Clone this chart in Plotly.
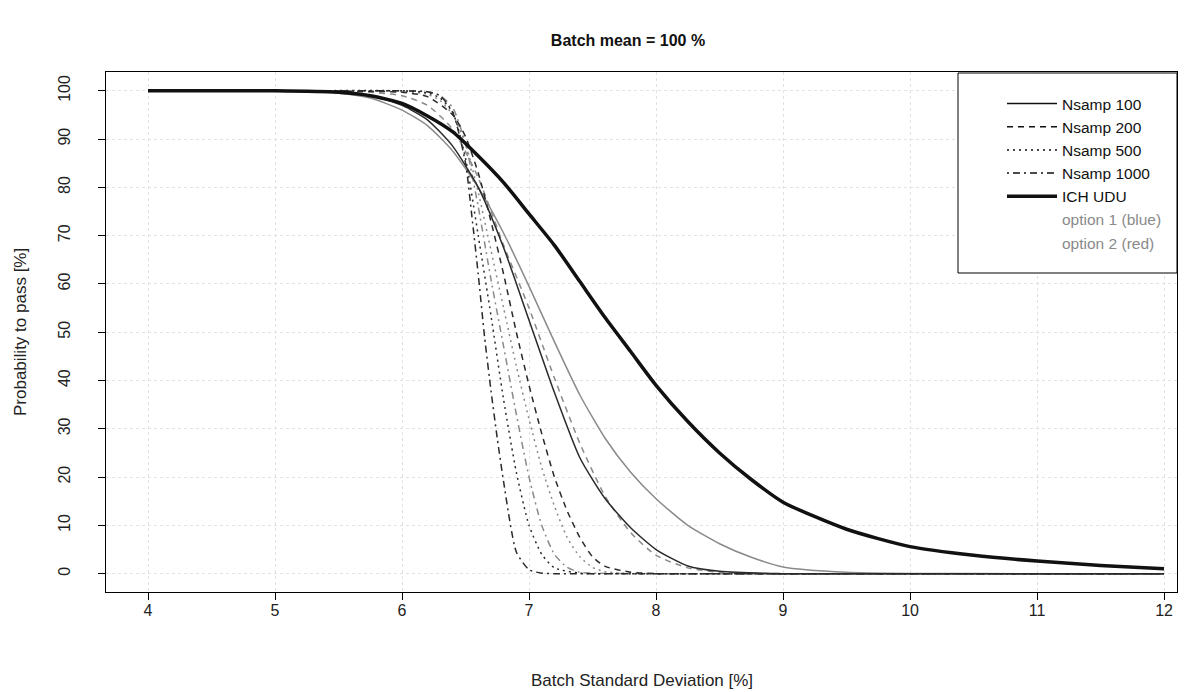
import plotly.graph_objects as go

# ---------------- data ----------------
x_ich = [4, 5, 5.5, 5.75, 6, 6.2, 6.4, 6.6, 6.8, 7.0, 7.2, 7.4, 7.6, 7.8, 8.0, 8.25, 8.5, 8.75, 9, 9.5, 10, 10.5, 11, 11.5, 12]
y_ich = [100, 100, 99.7, 99, 97.4, 94.8, 91.5, 86.5, 81, 74.5, 68, 60.5, 53, 46, 39, 31.5, 25, 19.5, 14.8, 9.2, 5.6, 3.8, 2.6, 1.7, 1.0]

x_n100_o1 = [4, 5, 5.5, 5.75, 6, 6.2, 6.4, 6.6, 6.8, 7.0, 7.2, 7.4, 7.6, 7.8, 8.0, 8.25, 8.5, 8.75, 9, 9.5, 10, 11, 12]
y_n100_o1 = [100, 100, 99.5, 98.5, 96, 92.8, 87.5, 80, 70.5, 59.5, 48, 37, 28, 21, 15.5, 10, 6.2, 3.4, 1.4, 0.3, 0.05, 0, 0]

x_n100_o2 = [4, 5, 5.5, 5.75, 6, 6.2, 6.4, 6.6, 6.8, 7.0, 7.2, 7.4, 7.6, 7.8, 8.0, 8.25, 8.5, 9, 10, 12]
y_n100_o2 = [100, 100, 99.7, 99, 97, 94, 88.5, 80, 67.5, 52.5, 37.5, 24, 15.5, 9.5, 5, 1.6, 0.5, 0, 0, 0]

x_n200_o1 = [4, 5, 5.75, 6, 6.2, 6.4, 6.6, 6.8, 7.0, 7.2, 7.4, 7.6, 7.8, 8.0, 8.25, 8.5, 9, 10, 12]
y_n200_o1 = [100, 100, 99.7, 99, 97, 92, 82, 68, 55, 40.5, 27, 16, 8.5, 3.8, 1.2, 0.3, 0, 0, 0]

x_n200_o2 = [4, 5, 6, 6.2, 6.4, 6.5, 6.6, 6.7, 6.8, 6.9, 7.0, 7.1, 7.2, 7.3, 7.4, 7.5, 7.6, 7.8, 8, 9, 12]
y_n200_o2 = [100, 100, 99.7, 98.8, 95, 90.5, 83, 73, 62, 50, 39, 29, 20, 13, 7.5, 3.5, 1.5, 0.3, 0, 0, 0]

x_n500_o1 = [4, 5, 6, 6.2, 6.3, 6.4, 6.5, 6.6, 6.7, 6.8, 6.9, 7.0, 7.1, 7.2, 7.3, 7.4, 7.5, 7.6, 7.8, 8, 12]
y_n500_o1 = [100, 100, 99.9, 99.3, 98, 95, 89, 79, 67, 55, 43, 32, 22, 14, 7.5, 3.5, 1.3, 0.4, 0, 0, 0]

x_n500_o2 = [4, 5, 6, 6.2, 6.3, 6.4, 6.5, 6.6, 6.7, 6.8, 6.9, 7.0, 7.1, 7.2, 7.4, 8, 12]
y_n500_o2 = [100, 100, 100, 99.6, 98.5, 95.5, 86, 70, 53.5, 36, 21, 10, 4, 1.2, 0.1, 0, 0]

x_n1000_o1 = [4, 5, 6, 6.2, 6.3, 6.4, 6.5, 6.6, 6.7, 6.8, 6.9, 7.0, 7.1, 7.2, 7.3, 7.4, 8, 12]
y_n1000_o1 = [100, 100, 100, 99.8, 99, 96.5, 89, 76, 61, 47, 33, 20, 10, 4, 1.3, 0.3, 0, 0]

x_n1000_o2 = [4, 5, 6, 6.2, 6.3, 6.4, 6.5, 6.55, 6.6, 6.65, 6.7, 6.75, 6.8, 6.9, 7.0, 7.1, 7.2, 8, 12]
y_n1000_o2 = [100, 100, 100, 99.8, 99, 95.5, 85, 74, 62, 49, 38, 28, 19, 4.5, 0.8, 0.1, 0, 0, 0]

x_ticks = [4, 5, 6, 7, 8, 9, 10, 11, 12]
y_ticks = [0, 10, 20, 30, 40, 50, 60, 70, 80, 90, 100]

legend_names = ["Nsamp 100", "Nsamp 200", "Nsamp 500", "Nsamp 1000", "ICH UDU",
                "option 1 (blue)", "option 2 (red)"]

# ---------------- styles ----------------
C1 = "#8a8a8a"   # option 1 (blue) rendered in grey
C2 = "#2a2a2a"   # option 2 (red) rendered darker
DASH = "6px,5px"
DOT = "2px,4px"
DASHDOT = "2px,4px,7px,4px"
FONT = "Liberation Sans, Arial, sans-serif"

# plot area in pixels
L, R, T, B = 106, 1177, 72, 592
W, H = 1197, 692

fig = go.Figure()

def add(x, y, color, dash, width=1.5):
    fig.add_trace(go.Scatter(x=x, y=y, mode="lines", showlegend=False, hoverinfo="skip",
                             line=dict(color=color, dash=dash, width=width,
                                       shape="spline", smoothing=0.6)))

add(x_n1000_o1, y_n1000_o1, C1, DASHDOT)
add(x_n500_o1, y_n500_o1, C1, DOT)
add(x_n200_o1, y_n200_o1, C1, DASH)
add(x_n100_o1, y_n100_o1, C1, "solid")
add(x_n1000_o2, y_n1000_o2, C2, DASHDOT)
add(x_n500_o2, y_n500_o2, C2, DOT)
add(x_n200_o2, y_n200_o2, C2, DASH)
add(x_n100_o2, y_n100_o2, C2, "solid")
add(x_ich, y_ich, "#111111", "solid", width=3.5)

# legend entries
leg_styles = [("solid", 1.5, "#111"), (DASH, 1.5, "#111"), (DOT, 1.5, "#111"),
              (DASHDOT, 1.5, "#111"), ("solid", 3.5, "#111")]
for name, (d, w, c) in zip(legend_names[:5], leg_styles):
    fig.add_trace(go.Scatter(x=[None], y=[None], mode="lines", name=name,
                             line=dict(color=c, dash=d, width=w)))
for name in legend_names[5:]:
    fig.add_trace(go.Scatter(x=[None], y=[None], mode="lines",
                             name='<span style="color:#8a8a8a">' + name + '</span>',
                             line=dict(color="rgba(0,0,0,0)", width=1)))

axis_common = dict(showline=True, linecolor="black", linewidth=1, mirror=True,
                   ticks="outside", ticklen=7, tickcolor="black", tickwidth=1,
                   showgrid=True, gridcolor="#e2e2e2", griddash="dot", gridwidth=1,
                   zeroline=False, automargin=False,
                   tickfont=dict(family=FONT, size=16, color="#222"))

def px_x(p):
    return (p - L) / (R - L)

def px_y(p):
    return (B - p) / (B - T)

fig.update_layout(
    width=W, height=H,
    margin=dict(l=L, r=W - R, t=T, b=H - B),
    paper_bgcolor="white", plot_bgcolor="white",
    font=dict(family=FONT, size=16, color="#222"),
    title=dict(text="<b>Batch mean = 100 %</b>", x=628 / W, xref="container",
               xanchor="center", y=1 - 40 / H, yref="container", yanchor="middle",
               font=dict(family=FONT, size=16, color="#111")),
    xaxis=dict(range=[3.669, 12.102], tickvals=x_ticks, ticklabelstandoff=-3,
               **axis_common),
    yaxis=dict(range=[-3.8, 103.9], tickvals=y_ticks, tickangle=-90,
               ticklabelstandoff=22, **axis_common),
    shapes=[dict(type="rect", xref="paper", yref="paper",
                 x0=px_x(958), x1=px_x(1177), y0=px_y(273), y1=px_y(73),
                 line=dict(color="black", width=1), fillcolor="white", layer="above")],
    legend=dict(x=px_x(1002), y=px_y(87), xanchor="left", yanchor="top",
                bgcolor="rgba(0,0,0,0)", borderwidth=0,
                font=dict(family=FONT, size=15.5, color="#111"),
                itemwidth=50, tracegroupgap=0),
    annotations=[
        dict(text="Batch Standard Deviation [%]", xref="paper", yref="paper",
             x=0.5, y=px_y(680), xanchor="center", yanchor="middle",
             showarrow=False, font=dict(family=FONT, size=17, color="#222")),
        dict(text="Probability to pass [%]", xref="paper", yref="paper",
             x=px_x(20), y=0.5, xanchor="center", yanchor="middle",
             textangle=-90, showarrow=False, font=dict(family=FONT, size=17, color="#222")),
    ],
)

fig.write_html("out.html", config={"displayModeBar": False},
               post_script="document.body.style.margin='0';")
